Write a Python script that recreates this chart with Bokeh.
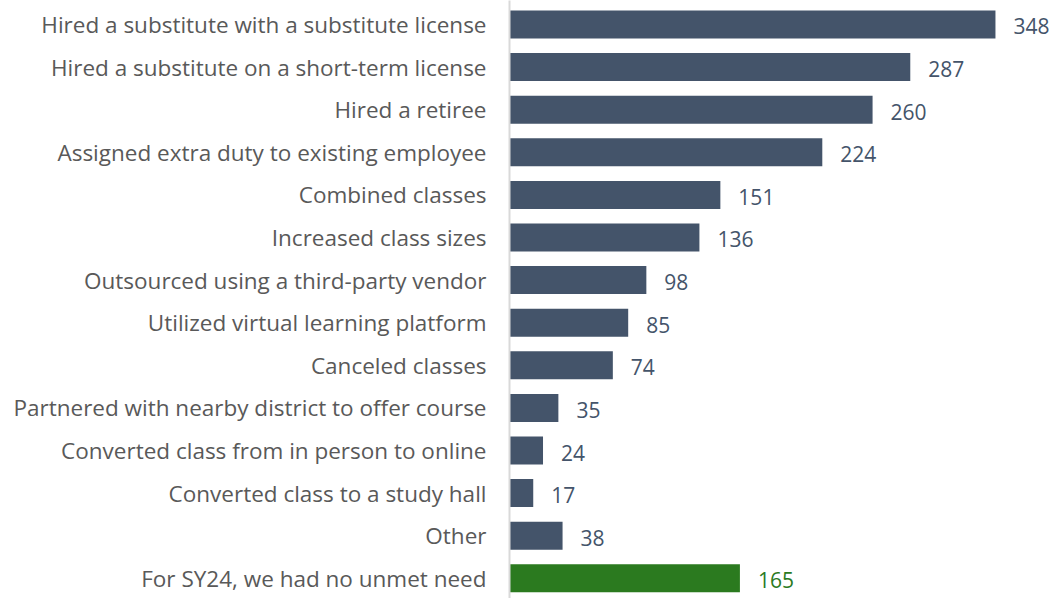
from bokeh.plotting import figure
from bokeh.models import Range1d, FixedTicker, ColumnDataSource
from bokeh.embed import file_html
from bokeh.resources import INLINE
from bokeh.core.properties import value

categories = [
    "Hired a substitute with a substitute license",
    "Hired a substitute on a short-term license",
    "Hired a retiree",
    "Assigned extra duty to existing employee",
    "Combined classes",
    "Increased class sizes",
    "Outsourced using a third-party vendor",
    "Utilized virtual learning platform",
    "Canceled classes",
    "Partnered with nearby district to offer course",
    "Converted class from in person to online",
    "Converted class to a study hall",
    "Other",
    "For SY24, we had no unmet need",
]
counts = [348, 287, 260, 224, 151, 136, 98, 85, 74, 35, 24, 17, 38, 165]

BLUE = "#44546A"
GREEN = "#2B7A1F"
colors = [BLUE] * 13 + [GREEN]

idx = list(range(len(categories)))
src = ColumnDataSource(dict(y=idx, v=counts, c=colors, lab=[str(v) for v in counts]))

p = figure(width=1049, height=598, output_backend="svg", toolbar_location=None,
           x_range=Range1d(0, 386.7), y_range=Range1d(13.474, -0.563),
           min_border_left=509, min_border_right=0, min_border_top=0, min_border_bottom=0)

p.hbar(y="y", left=0, right="v", height=0.657, fill_color="c", line_color=None, source=src)
p.text(x="v", y="y", text="lab", text_color="c", x_offset=18, y_offset=2,
       text_baseline="middle", text_align="left", text_font=value("Open Sans"),
       text_font_size="21px", source=src)

p.xaxis.visible = False
p.grid.visible = False
p.outline_line_color = None

ya = p.yaxis[0]
ya.ticker = FixedTicker(ticks=idx)
ya.major_label_overrides = {i: c for i, c in enumerate(categories)}
ya.major_tick_line_color = None
ya.minor_tick_line_color = None
ya.axis_line_color = "#D9D9D9"
ya.axis_line_width = 2
ya.major_label_standoff = 17
ya.major_label_text_font = "Open Sans"
ya.major_label_text_font_size = "22.5px"
ya.major_label_text_color = "#595959"

open("out.html", "w").write(file_html(p, INLINE))
